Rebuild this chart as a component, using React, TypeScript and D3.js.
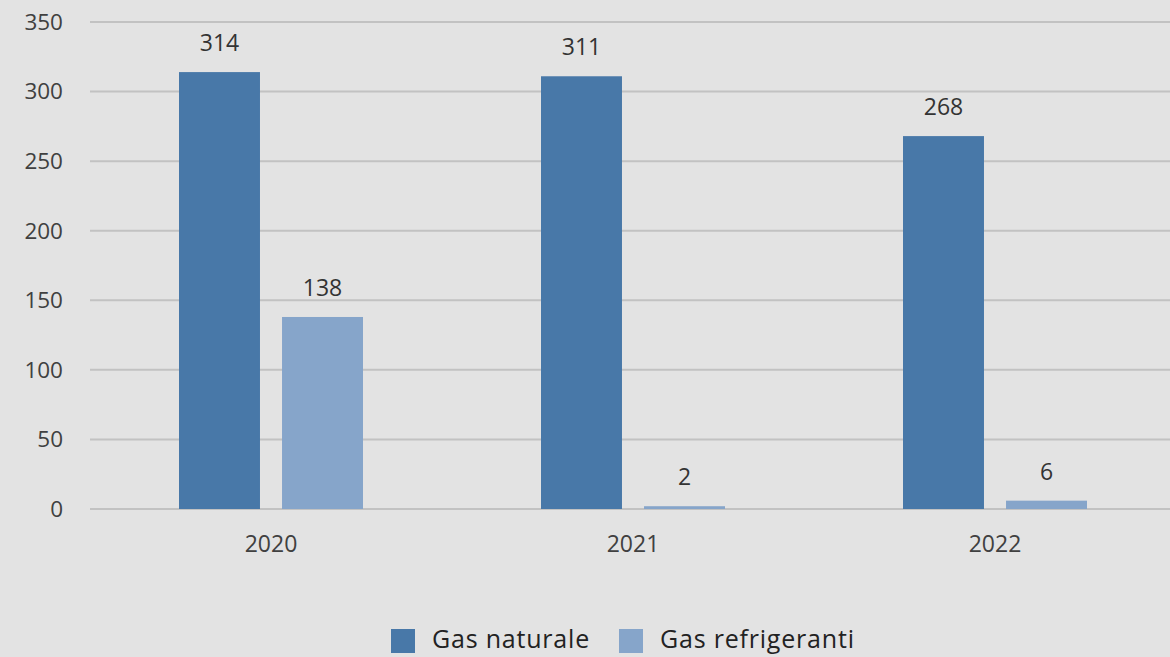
import React from "react";
import * as d3 from "d3";

const categories = ["2020", "2021", "2022"];
const gasNaturale = [314, 311, 268];
const gasRefrigeranti = [138, 2, 6];
const seriesNames = ["Gas naturale", "Gas refrigeranti"];
const seriesColors = ["#4878a8", "#86a5ca"];
const yTicks = [0, 50, 100, 150, 200, 250, 300, 350];

const W = 1170;
const H = 657;
const margin = { left: 90, right: -6, top: 22, bottom: 148 };

export default function App() {
  const x = d3
    .scaleBand<string>()
    .domain(categories)
    .range([margin.left, W - margin.right])
    .padding(0);
  const y = d3
    .scaleLinear()
    .domain([0, 350])
    .range([H - margin.bottom, margin.top]);
  const inner = d3
    .scaleBand<number>()
    .domain([0, 1])
    .range([-92, 92])
    .paddingInner(0.214);

  const series = [gasNaturale, gasRefrigeranti];
  const font = "'Open Sans', 'Liberation Sans', sans-serif";

  return (
    <svg
      width={W}
      height={H}
      style={{ position: "absolute", left: 0, top: 0, background: "#e3e3e3" }}
    >
      <rect x={0} y={0} width={W} height={H} fill="#e3e3e3" />
      {yTicks.map((t) => (
        <g key={t}>
          <line
            x1={margin.left}
            x2={W}
            y1={y(t)}
            y2={y(t)}
            stroke="#c2c2c2"
            strokeWidth={2}
          />
          <text
            x={63}
            y={y(t)}
            dy="0.35em"
            textAnchor="end"
            fontFamily={font}
            fontSize={22.5}
            fill="#404040"
          >
            {t}
          </text>
        </g>
      ))}
      {categories.map((c, i) => {
        const cx = (x(c) as number) + x.bandwidth() / 2;
        return (
          <g key={c}>
            {series.map((s, j) => {
              const bx = cx + (inner(j) as number);
              const by = y(s[i]);
              return (
                <g key={j}>
                  <rect
                    x={bx}
                    y={by}
                    width={inner.bandwidth()}
                    height={y(0) - by}
                    fill={seriesColors[j]}
                  />
                  <text
                    x={bx + inner.bandwidth() / 2}
                    y={by - 21}
                    textAnchor="middle"
                    fontFamily={font}
                    fontSize={23}
                    fill="#333333"
                  >
                    {s[i]}
                  </text>
                </g>
              );
            })}
            <text
              x={cx}
              y={552}
              textAnchor="middle"
              fontFamily={font}
              fontSize={23}
              fill="#404040"
            >
              {c}
            </text>
          </g>
        );
      })}
      <g>
        {seriesNames.map((n, j) => {
          const lx = j === 0 ? 391 : 619;
          return (
            <g key={n}>
              <rect x={lx} y={629} width={24} height={24} fill={seriesColors[j]} />
              <text
                x={lx + 41}
                y={648}
                fontFamily={font}
                fontSize={25}
                letterSpacing={0.8}
                fill="#222222"
              >
                {n}
              </text>
            </g>
          );
        })}
      </g>
    </svg>
  );
}
